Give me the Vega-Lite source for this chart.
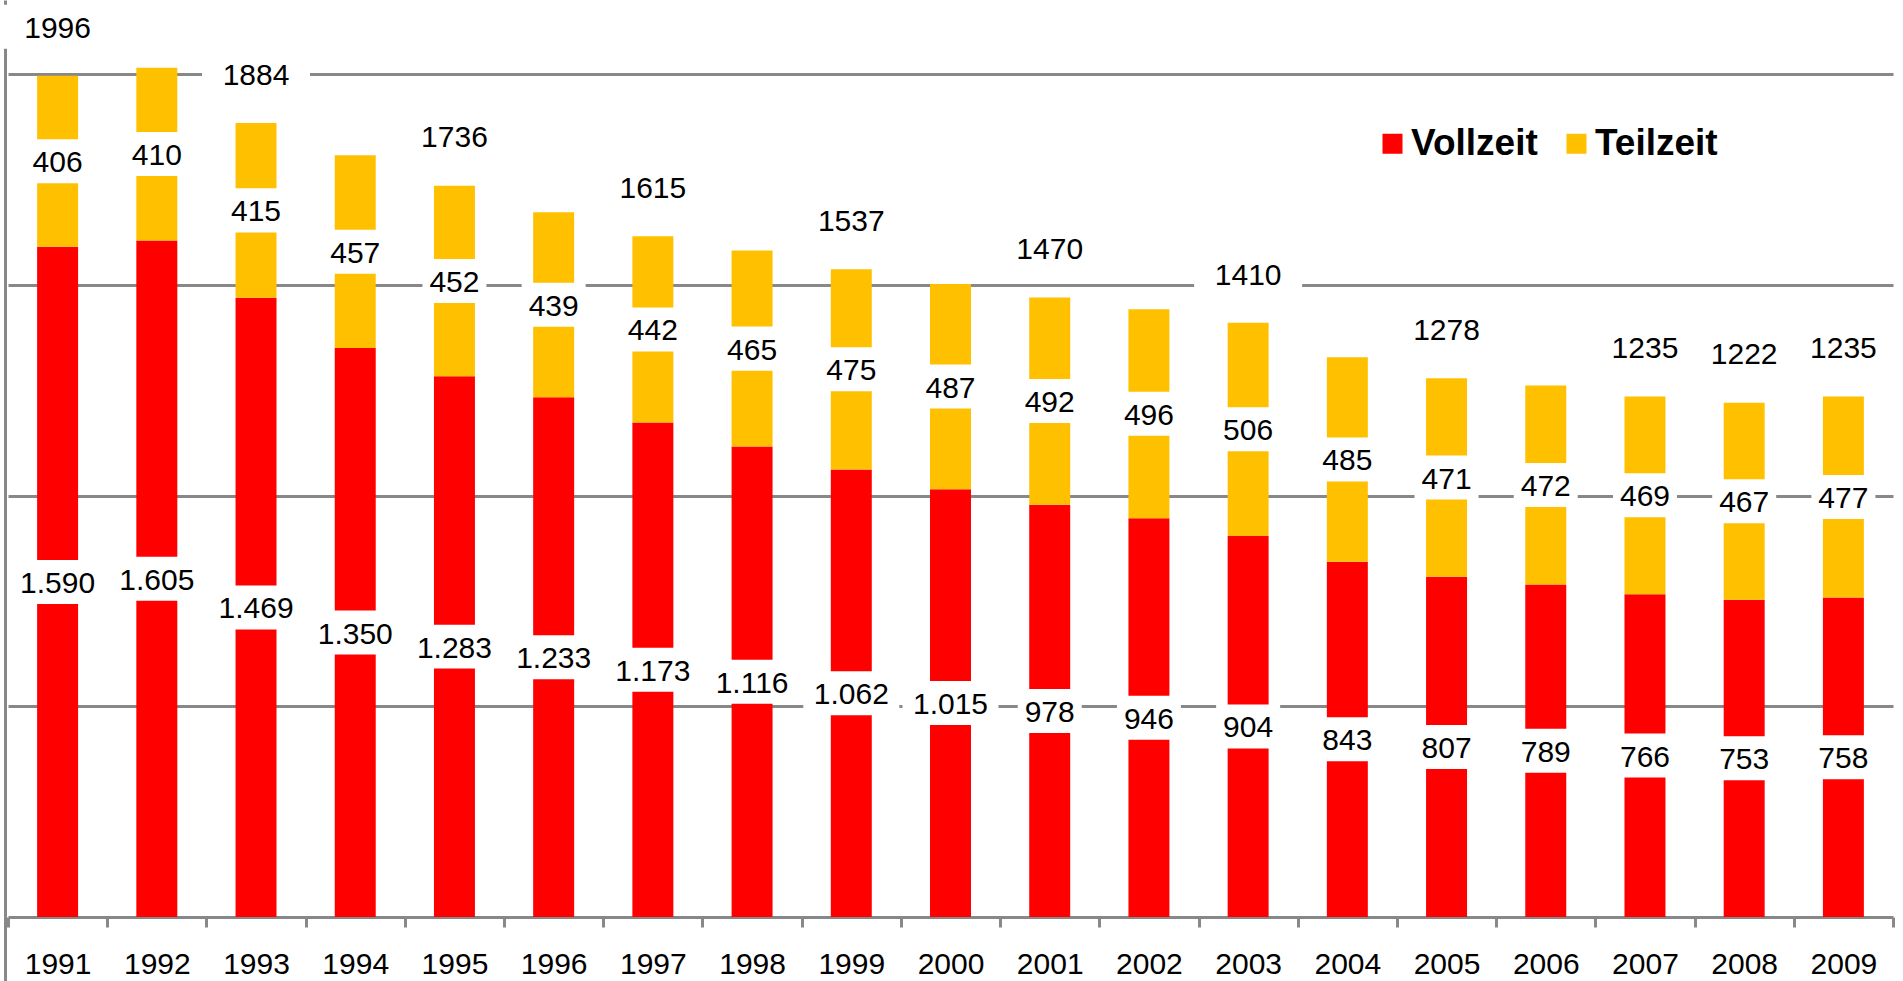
{
  "$schema": "https://vega.github.io/schema/vega-lite/v6.json",
  "width": 1885,
  "height": 981,
  "padding": {"left": 8, "right": 10, "top": 0, "bottom": 0},
  "autosize": {"type": "none"},
  "background": "white",
  "datasets": {
    "main": [
      {"year": "1991", "type": "Vollzeit", "value": 1590}, {"year": "1991", "type": "Teilzeit", "value": 406},
      {"year": "1992", "type": "Vollzeit", "value": 1605}, {"year": "1992", "type": "Teilzeit", "value": 410},
      {"year": "1993", "type": "Vollzeit", "value": 1469}, {"year": "1993", "type": "Teilzeit", "value": 415},
      {"year": "1994", "type": "Vollzeit", "value": 1350}, {"year": "1994", "type": "Teilzeit", "value": 457},
      {"year": "1995", "type": "Vollzeit", "value": 1283}, {"year": "1995", "type": "Teilzeit", "value": 452},
      {"year": "1996", "type": "Vollzeit", "value": 1233}, {"year": "1996", "type": "Teilzeit", "value": 439},
      {"year": "1997", "type": "Vollzeit", "value": 1173}, {"year": "1997", "type": "Teilzeit", "value": 442},
      {"year": "1998", "type": "Vollzeit", "value": 1116}, {"year": "1998", "type": "Teilzeit", "value": 465},
      {"year": "1999", "type": "Vollzeit", "value": 1062}, {"year": "1999", "type": "Teilzeit", "value": 475},
      {"year": "2000", "type": "Vollzeit", "value": 1015}, {"year": "2000", "type": "Teilzeit", "value": 487},
      {"year": "2001", "type": "Vollzeit", "value": 978}, {"year": "2001", "type": "Teilzeit", "value": 492},
      {"year": "2002", "type": "Vollzeit", "value": 946}, {"year": "2002", "type": "Teilzeit", "value": 496},
      {"year": "2003", "type": "Vollzeit", "value": 904}, {"year": "2003", "type": "Teilzeit", "value": 506},
      {"year": "2004", "type": "Vollzeit", "value": 843}, {"year": "2004", "type": "Teilzeit", "value": 485},
      {"year": "2005", "type": "Vollzeit", "value": 807}, {"year": "2005", "type": "Teilzeit", "value": 471},
      {"year": "2006", "type": "Vollzeit", "value": 789}, {"year": "2006", "type": "Teilzeit", "value": 472},
      {"year": "2007", "type": "Vollzeit", "value": 766}, {"year": "2007", "type": "Teilzeit", "value": 469},
      {"year": "2008", "type": "Vollzeit", "value": 753}, {"year": "2008", "type": "Teilzeit", "value": 467},
      {"year": "2009", "type": "Vollzeit", "value": 758}, {"year": "2009", "type": "Teilzeit", "value": 477}
    ],
    "totals": [
      {"year": "1991", "total": 1996},
      {"year": "1993", "total": 1884},
      {"year": "1995", "total": 1736},
      {"year": "1997", "total": 1615},
      {"year": "1999", "total": 1537},
      {"year": "2001", "total": 1470},
      {"year": "2003", "total": 1410},
      {"year": "2005", "total": 1278},
      {"year": "2007", "total": 1235},
      {"year": "2008", "total": 1222},
      {"year": "2009", "total": 1235}
    ]
  },
  "layer": [
    {
      "data": {"name": "main"},
      "transform": [
        {"stack": "value", "groupby": ["year"], "sort": [{"field": "type", "order": "descending"}], "as": ["v0", "v1"]},
        {"calculate": "(datum.v0 + datum.v1) / 2", "as": "mid"}
      ],
      "layer": [
        {
          "mark": {"type": "bar", "width": {"band": 0.413}},
          "encoding": {
            "x": {"field": "year", "type": "nominal", "scale": {"padding": 0, "paddingInner": 0, "paddingOuter": 0},
              "axis": {"orient": "bottom", "offset": -64, "tickBand": "extent", "labelBaseline": "alphabetic", "labelPadding": 46, "grid": false, "title": null, "labelAngle": 0}},
            "y": {"field": "v0", "type": "quantitative", "scale": {"domain": [-151.8, 2175.6], "nice": false, "zero": false},
              "axis": {"orient": "left", "offset": 3, "values": [500, 1000, 1500, 2000], "labels": false, "ticks": false, "grid": true, "title": null}},
            "y2": {"field": "v1"},
            "color": {"field": "type", "type": "nominal",
              "scale": {"domain": ["Vollzeit", "Teilzeit"], "range": ["#FF0000", "#FFC000"]},
              "legend": {"orient": "none", "legendX": 1366, "legendY": 125, "direction": "horizontal", "title": null,
                "symbolType": "square", "symbolSize": 400, "labelFontSize": 37, "labelFontWeight": "bold",
                "labelFont": "Liberation Sans", "labelColor": "#000000", "labelOffset": 0, "columnPadding": 20,
                "padding": 0, "symbolStrokeWidth": 0, "symbolOpacity": 1, "labelLimit": 0}}
          }
        },
        {
          "mark": {"type": "point", "filled": true, "color": "#FFFFFF", "opacity": 1, "strokeWidth": 0},
          "encoding": {
            "x": {"field": "year", "type": "nominal"},
            "y": {"field": "mid", "type": "quantitative"},
            "shape": {"condition": {"test": "datum.value >= 1000", "value": "M-1,-0.458L1,-0.458L1,0.458L-1,0.458Z"}, "value": "M-1,-0.688L1,-0.688L1,0.688L-1,0.688Z"},
            "size": {"condition": {"test": "datum.value >= 1000", "value": 9216}, "value": 4096}
          }
        },
        {
          "mark": {"type": "text", "font": "Liberation Sans", "fontSize": 30, "color": "#000000", "align": "center", "baseline": "alphabetic", "dy": 11},
          "encoding": {
            "x": {"field": "year", "type": "nominal"},
            "y": {"field": "mid", "type": "quantitative"},
            "text": {"field": "value", "type": "quantitative", "format": ",d"}
          }
        }
      ]
    },
    {
      "data": {"name": "totals"},
      "layer": [
        {
          "mark": {"type": "point", "filled": true, "color": "#FFFFFF", "opacity": 1, "strokeWidth": 0, "shape": "M-1,-1.315L1,-1.315L1,-0.5L-1,-0.5Z", "size": 11664},
          "encoding": {
            "x": {"field": "year", "type": "nominal"},
            "y": {"field": "total", "type": "quantitative"}
          }
        },
        {
          "mark": {"type": "text", "font": "Liberation Sans", "fontSize": 30, "color": "#000000", "align": "center", "baseline": "alphabetic", "dy": -38},
          "encoding": {
            "x": {"field": "year", "type": "nominal"},
            "y": {"field": "total", "type": "quantitative"},
            "text": {"field": "total", "type": "quantitative", "format": "d"}
          }
        }
      ]
    }
  ],
  "config": {
    "locale": {"number": {"decimal": ",", "thousands": ".", "grouping": [3], "currency": ["", " €"]}},
    "view": {"stroke": null},
    "axis": {
      "labelFont": "Liberation Sans", "labelFontSize": 30, "labelColor": "#000000",
      "domainColor": "#888888", "domainWidth": 3, "tickColor": "#888888", "tickWidth": 3, "tickSize": 10,
      "gridColor": "#888888", "gridWidth": 3
    }
  }
}
